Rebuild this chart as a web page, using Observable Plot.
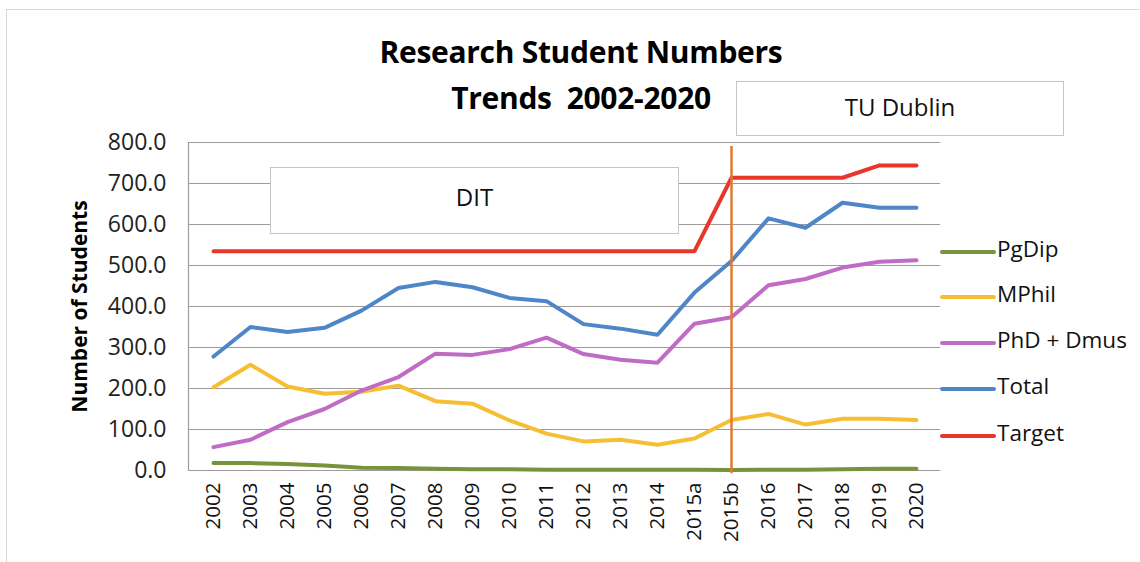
<!DOCTYPE html>
<html>
<head>
<meta charset="utf-8">
<script src="https://cdn.jsdelivr.net/npm/d3@7"></script>
<script src="https://cdn.jsdelivr.net/npm/@observablehq/plot@0.6"></script>
<style>
  html, body { margin: 0; padding: 0; background: #fff; }
  #wrap { position: relative; width: 1140px; height: 562px; overflow: hidden; font-family: "Open Sans", sans-serif; }
  #wrap svg { position: absolute; left: 0; top: 0; }
  .ov { position: absolute; }
  .title { font-weight: bold; font-size: 30px; color: #000; text-align: center; width: 600px; left: 281px; line-height: 1; white-space: pre; letter-spacing: -0.3px; }
  .box { border: 1.5px solid #c8c4c2; background: #fff; font-size: 24px; color: #111; display: flex; align-items: center; justify-content: center; box-sizing: border-box; }
  .leg { font-size: 22.5px; color: #111; white-space: nowrap; line-height: 1; }
  .legline { height: 4px; border-radius: 2px; width: 56px; }
  #frameTop { left: 7px; top: 9px; width: 1133px; height: 0; border-top: 1.5px solid #dcd8d6; }
  #frameLeft { left: 6px; top: 9px; width: 0; height: 560px; border-left: 1.5px solid #dcd8d6; }
</style>
</head>
<body>
<div id="wrap"></div>
<script>
const categories = ["2002","2003","2004","2005","2006","2007","2008","2009","2010","2011","2012","2013","2014","2015a","2015b","2016","2017","2018","2019","2020"];
const pgDip  = [18, 18, 16, 12, 7, 6, 4, 3, 3, 2, 2, 2, 2, 2, 1, 2, 2, 3, 4, 4];
const mPhil  = [203, 258, 205, 187, 192, 207, 169, 163, 122, 90, 71, 75, 63, 78, 123, 138, 112, 126, 126, 123];
const phdDmus= [57, 75, 118, 150, 195, 228, 285, 282, 296, 324, 284, 270, 263, 358, 374, 452, 467, 495, 509, 513];
const total  = [278, 350, 338, 348, 390, 445, 460, 447, 421, 413, 357, 346, 331, 434, 511, 615, 592, 653, 641, 641];
const target = [535, 535, 535, 535, 535, 535, 535, 535, 535, 535, 535, 535, 535, 535, 714, 714, 714, 714, 744, 744];
const seriesNames = ["PgDip", "MPhil", "PhD + Dmus", "Total", "Target"];
const seriesColors = ["#77933c", "#f6bf33", "#c06cc4", "#4e86c8", "#e8362b"];
const yTicks = [0, 100, 200, 300, 400, 500, 600, 700, 800];
const divider = ["2015b"];
const dividerSpan = [-8, 790];
const titleLines = ["Research Student Numbers", "Trends  2002-2020"];
const periodLabels = ["DIT", "TU Dublin"];
const yLabel = "Number of Students";

const seriesValues = [pgDip, mPhil, phdDmus, total, target];
const rows = [];
seriesNames.forEach((s, i) => categories.forEach((c, j) => rows.push({series: s, year: c, value: seriesValues[i][j]})));

const chart = Plot.plot({
  width: 1140,
  height: 562,
  marginLeft: 188,
  marginRight: 200,
  marginTop: 142,
  marginBottom: 92,
  style: {fontFamily: "Open Sans, sans-serif", background: "transparent", overflow: "visible"},
  x: {type: "point", domain: categories, padding: 0.5, label: null},
  y: {domain: [0, 800], label: null},
  color: {domain: seriesNames, range: seriesColors},
  marks: [
    Plot.gridY(yTicks, {stroke: "#a09a98", strokeOpacity: 1, strokeWidth: 1.2}),
    Plot.ruleY([0], {stroke: "#a09a98", strokeWidth: 1.2}),
    Plot.frame({anchor: "left", stroke: "#a09a98", strokeWidth: 1.2}),
    Plot.axisY(yTicks, {tickSize: 0, tickPadding: 22, tickFormat: d => d.toFixed(1), fontSize: 23, fill: "#222", label: null}),
    Plot.axisX(categories, {tickSize: 0, tickPadding: 12, tickRotate: -90, fontSize: 20.5, fill: "#111", label: null}),
    Plot.line(rows, {x: "year", y: "value", z: "series", stroke: "series", strokeWidth: 4, strokeLinejoin: "round", strokeLinecap: "round"}),
    Plot.ruleX(divider, {x: d => d, y1: dividerSpan[0], y2: dividerSpan[1], stroke: "#e07b32", strokeWidth: 2.5}),
    Plot.text([yLabel], {frameAnchor: "left", dx: -108, rotate: -90, textAnchor: "middle", fontSize: 21, fontWeight: "bold", fill: "#000", text: d => d})
  ]
});

const wrap = document.getElementById("wrap");
wrap.appendChild(chart);

function add(cls, id, style, html) {
  const d = document.createElement("div");
  d.className = "ov " + cls;
  if (id) d.id = id;
  Object.assign(d.style, style);
  if (html != null) d.textContent = html;
  wrap.appendChild(d);
  return d;
}
add("", "frameTop", {});
add("", "frameLeft", {});
add("title", null, {top: "37px"}, titleLines[0]);
add("title", null, {top: "83px"}, titleLines[1]);
add("box", null, {left: "270px", top: "167px", width: "409px", height: "67px", paddingBottom: "8px"}, periodLabels[0]);
add("box", null, {left: "736px", top: "81px", width: "328px", height: "55px", paddingBottom: "4px"}, periodLabels[1]);

const legY = [252, 297, 343, 389, 436];
seriesNames.forEach((s, i) => {
  add("legline", null, {left: "940px", top: (legY[i] - 2) + "px", background: seriesColors[i]});
  add("leg", null, {left: "997px", top: (legY[i] - 14) + "px"}, s);
});
</script>
</body>
</html>
